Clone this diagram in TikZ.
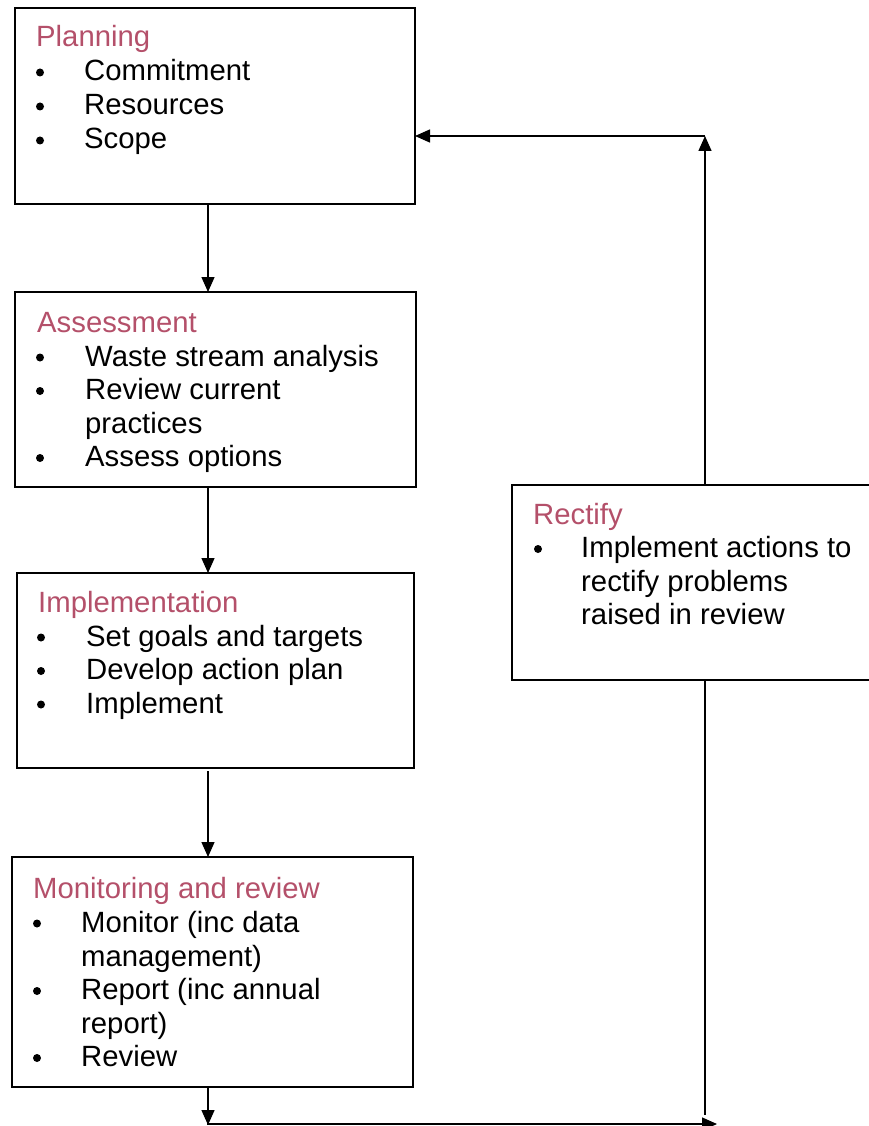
\documentclass[tikz,border=0pt]{standalone}
\usepackage{fontspec}
\setmainfont{Liberation Sans}
\usetikzlibrary{arrows.meta}
\definecolor{headred}{RGB}{180,80,106}
\begin{document}
\begin{tikzpicture}[x=1pt,y=-1pt,
  box/.style={draw=black,line width=1.6pt,rectangle,anchor=north west,inner sep=0pt,outer sep=0pt},
  arr/.style={line width=1.4pt,-{Triangle[length=15pt,width=13pt]}},
  ln/.style={line width=1.4pt},
  txt/.style={anchor=base west,inner sep=0pt,font=\fontsize{29.3}{34}\selectfont},
  ttl/.style={txt,text=headred}]
\useasboundingbox (0,0) rectangle (869,1126);
\clip (0,0) rectangle (869,1126);
% boxes
\node[box,minimum width=400,minimum height=196] (plan) at (15,8) {};
\node[box,minimum width=401,minimum height=195] (assess) at (15,292) {};
\node[box,minimum width=397,minimum height=195] (impl) at (17,573) {};
\node[box,minimum width=401,minimum height=230] (mon) at (12,857) {};
\node[box,minimum width=380,minimum height=195] (rect) at (512,485) {};
% guide coordinates
\coordinate (spine) at (208,0);
\coordinate (rx) at (705,0);
\coordinate (corner) at (705,136);
\coordinate (bl) at (208,1124);
\coordinate (br) at (717,1124);
\coordinate (rend) at (705,1115);
% connectors
\draw[arr] (plan.south -| spine) -- (assess.north -| spine);
\draw[arr] (assess.south -| spine) -- (impl.north -| spine);
\draw[arr] ([yshift=-3pt]impl.south -| spine) -- (mon.north -| spine);
\draw[arr] (mon.south -| spine) -- ([yshift=-1pt]bl);
\draw[arr] ([xshift=-0.7pt]bl) -- (br);
\draw[ln] (rect.south -| rx) -- (rend);
\draw[arr] (rect.north -| rx) -- (corner);
\draw[arr] (corner) -- (plan.east |- corner);
% Planning text
\node[ttl] (t1) at (36,47) {Planning};
\node[txt] (p1) at (84,81) {Commitment};
\node[txt] (p2) at (84,115) {Resources};
\node[txt] (p3) at (84,149) {Scope};
\foreach \y in {81,115,149} \fill (40,\y-8.5) circle (4);
% Assessment text
\node[ttl] (t2) at (37,332) {Assessment};
\node[txt] (a1) at (85,366) {Waste stream analysis};
\node[txt] (a2) at (85,399.5) {Review current};
\node[txt] (a3) at (85,433) {practices};
\node[txt] (a4) at (85,466.5) {Assess options};
\foreach \y in {366,399.5,466.5} \fill (40,\y-8.5) circle (4);
% Implementation text
\node[ttl] (t3) at (38,612) {Implementation};
\node[txt] (i1) at (86,646) {Set goals and targets};
\node[txt] (i2) at (86,679.5) {Develop action plan};
\node[txt] (i3) at (86,713) {Implement};
\foreach \y in {646,679.5,713} \fill (41,\y-8.5) circle (4);
% Monitoring text
\node[ttl] (t4) at (33,898) {Monitoring and review};
\node[txt] (m1) at (81,932) {Monitor (inc data};
\node[txt] (m2) at (81,966) {management)};
\node[txt] (m3) at (81,999.5) {Report (inc annual};
\node[txt] (m4) at (81,1033) {report)};
\node[txt] (m5) at (81,1066.5) {Review};
\foreach \y in {932,999.5,1066.5} \fill (37,\y-8.5) circle (4);
% Rectify text
\node[ttl] (t5) at (533,524) {Rectify};
\node[txt] (r1) at (581,557.5) {Implement actions to};
\node[txt] (r2) at (581,591) {rectify problems};
\node[txt] (r3) at (581,624.5) {raised in review};
\fill (538,557.5-8.5) circle (4);
\end{tikzpicture}
\end{document}
